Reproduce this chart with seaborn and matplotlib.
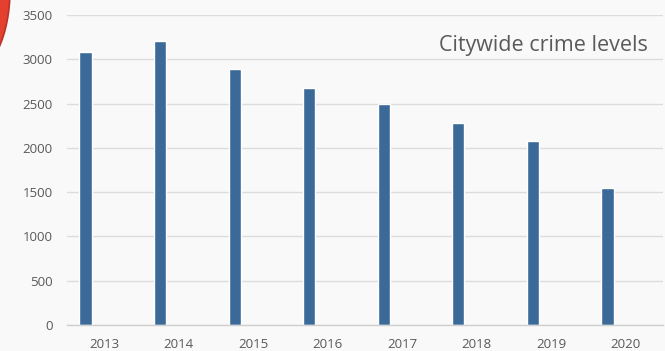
import matplotlib
matplotlib.use("Agg")
import matplotlib.pyplot as plt
import seaborn as sns
import pandas as pd
import numpy as np
from matplotlib.patches import Ellipse

years = ["2013", "2014", "2015", "2016", "2017", "2018", "2019", "2020"]
crimes = [3080, 3205, 2895, 2675, 2490, 2285, 2075, 1543]
series = ["Crimes", "Blank A", "Blank B", "Blank C"]
yticks = [0, 500, 1000, 1500, 2000, 2500, 3000, 3500]
title = "Citywide crime levels"

rows = []
for y, v in zip(years, crimes):
    rows.append({"year": y, "value": v, "series": series[0]})
    for s in series[1:]:
        rows.append({"year": y, "value": np.nan, "series": s})
df = pd.DataFrame(rows)

sns.set_theme(style="white")
plt.rcParams["font.family"] = ["Open Sans", "DejaVu Sans"]

bg = "#f9f9f9"
fig = plt.figure(figsize=(6.65, 3.51), dpi=100, facecolor=bg)
ax = fig.add_axes([66.7/665, 26/351, 596.5/665, 310/351])
ax.set_facecolor(bg)

sns.barplot(data=df, x="year", y="value", hue="series", hue_order=series,
            order=years, palette=["#3b6a98", "#ffffff", "#ffffff", "#ffffff"],
            width=0.66, dodge=True, ax=ax, legend=False,
            saturation=1, errorbar=None)

ax.set_ylim(0, 3500)
ax.set_xlim(-0.5, 7.5)
ax.set_yticks(yticks)
ax.set_yticklabels([str(t) for t in yticks])
ax.yaxis.grid(True, color="#dcdcdc", linewidth=1)
ax.set_axisbelow(True)
for s in ["top", "right", "left"]:
    ax.spines[s].set_visible(False)
ax.spines["bottom"].set_color("#d0d0d0")
ax.spines["bottom"].set_linewidth(1)
ax.set_xlabel("")
ax.set_ylabel("")
ax.tick_params(axis="both", length=0, labelsize=9.5, colors="#595959")
ax.tick_params(axis="y", pad=10)
ax.tick_params(axis="x", pad=9.5)

ax.text(0.975, 0.903, title, transform=ax.transAxes, ha="right", va="center",
        fontsize=15.5, color="#5a5a5a")

# decorative red arc at top-left
circ = Ellipse((-0.045, 1.028), 0.12, 0.473, transform=fig.transFigure,
               facecolor="#e5402f", edgecolor="#b8322a", linewidth=1.2, zorder=0)
fig.patches.append(circ)

fig.savefig("out.png", dpi=100, facecolor=bg)
